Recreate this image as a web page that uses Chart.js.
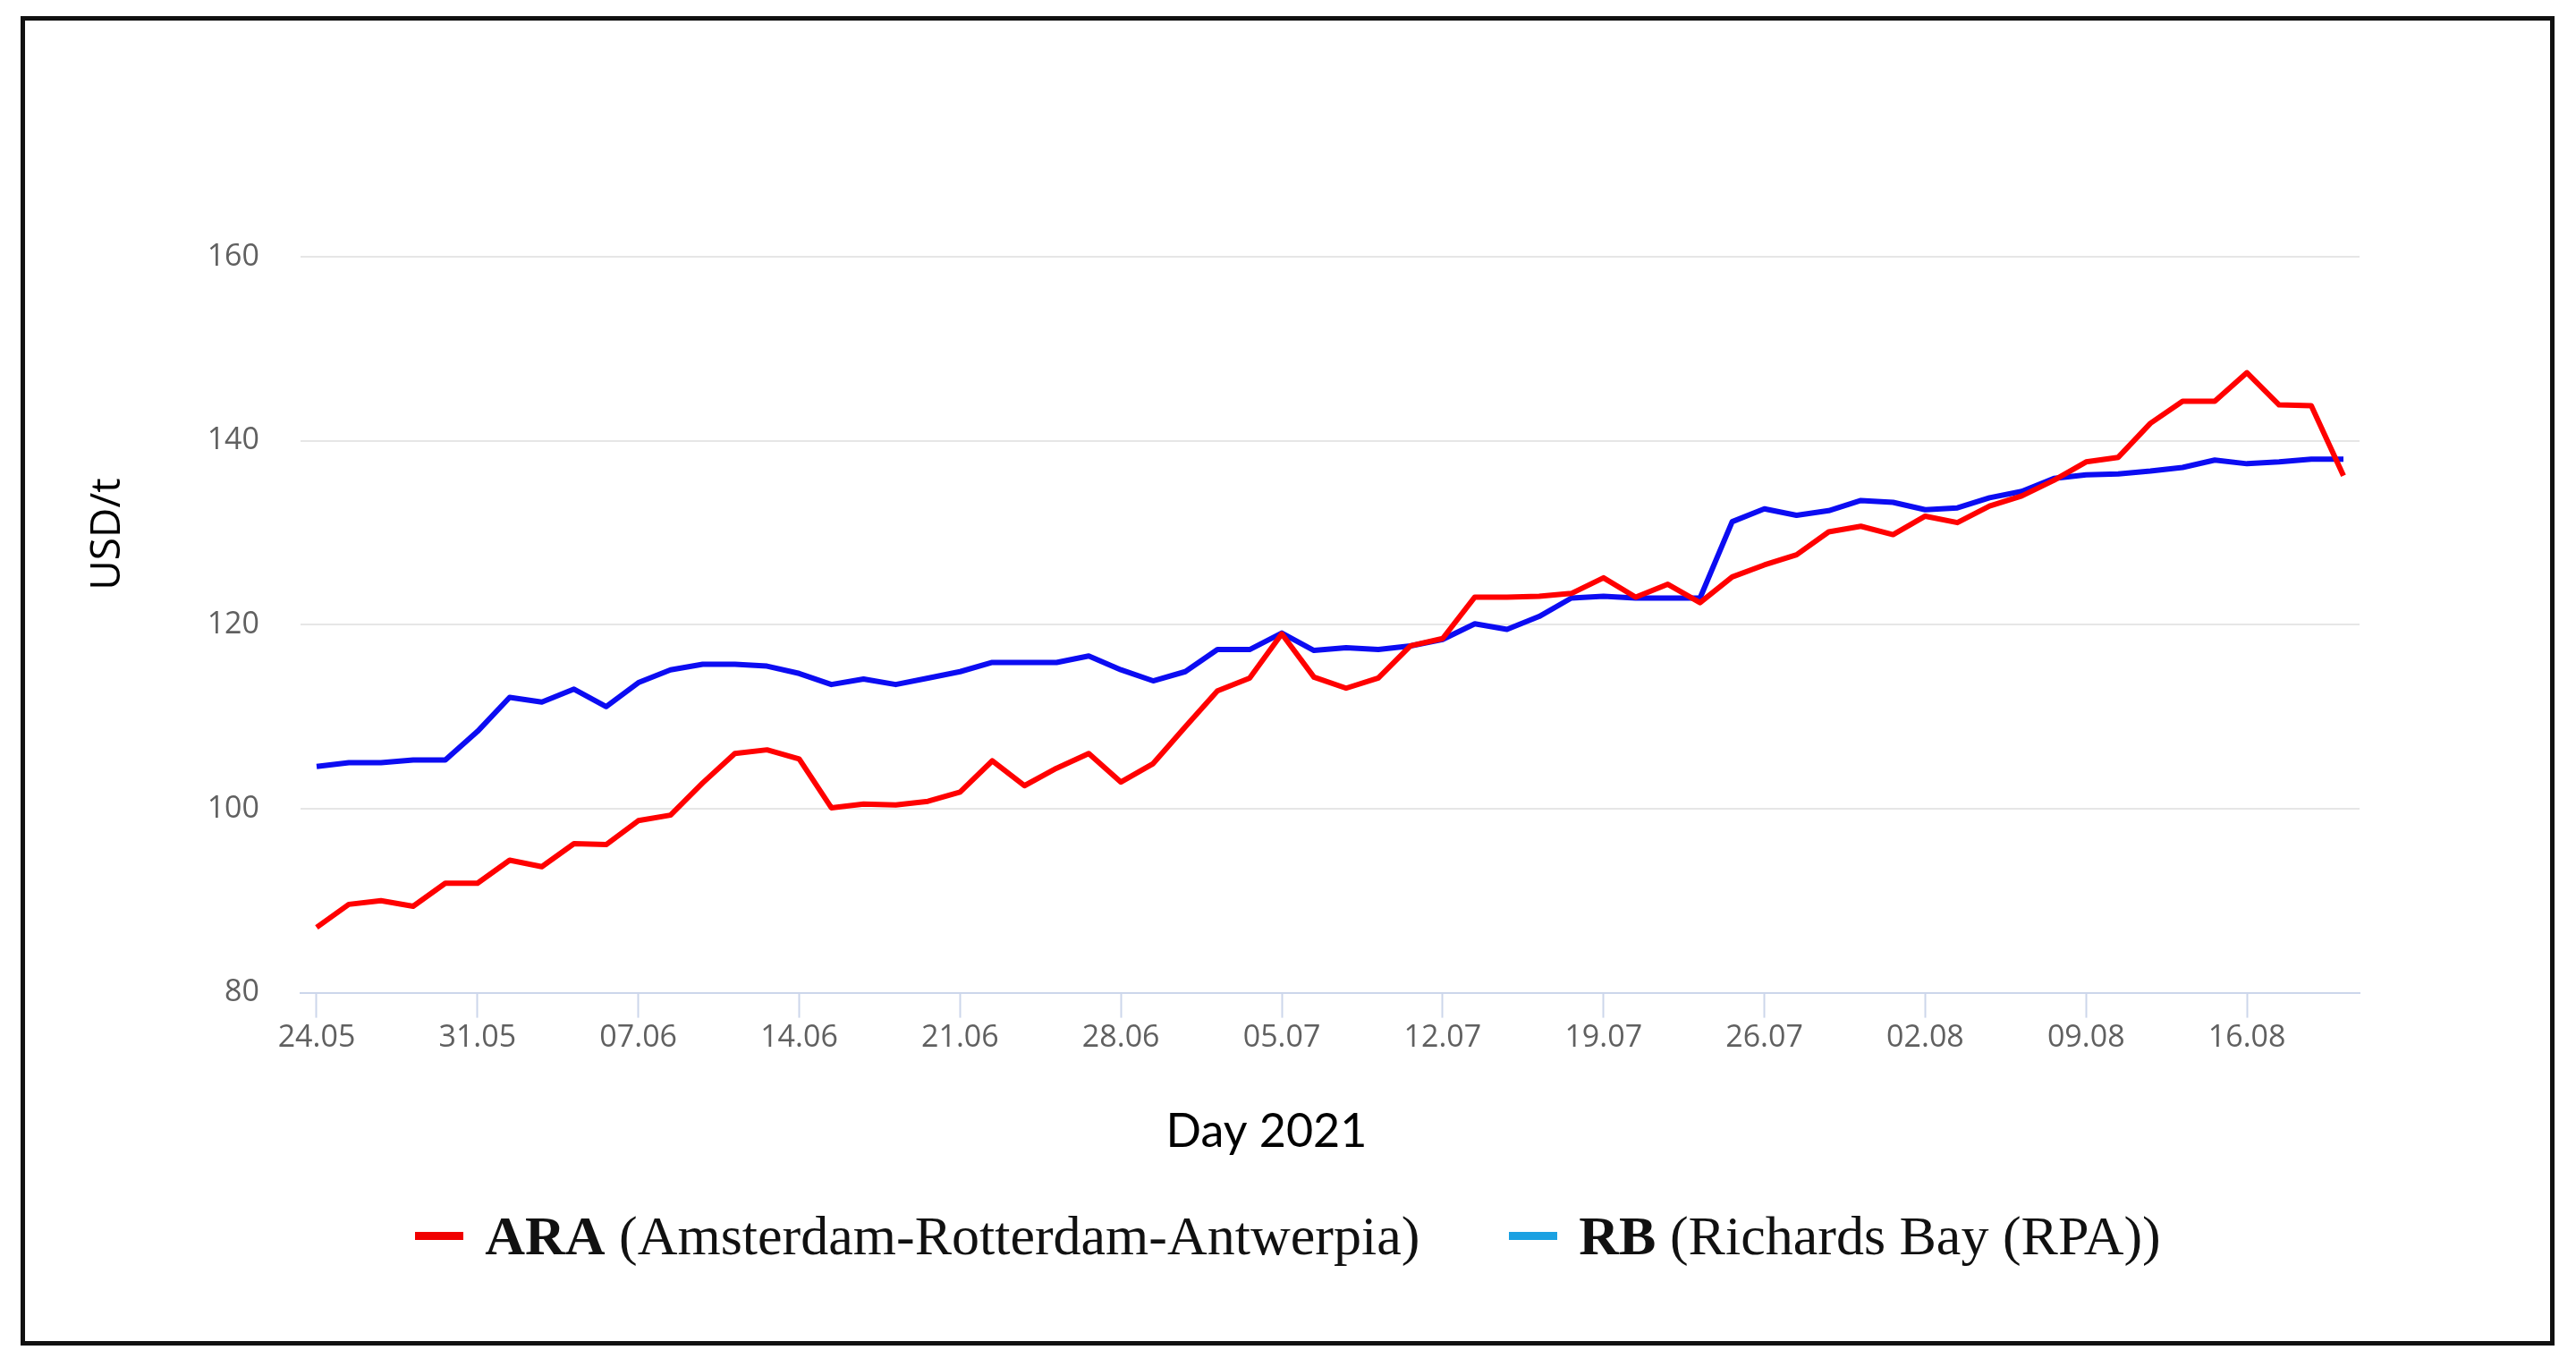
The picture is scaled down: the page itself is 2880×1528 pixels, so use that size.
<!DOCTYPE html>
<html>
<head>
<meta charset="utf-8">
<title>ARA vs RB 2021</title>
<script src="https://cdn.jsdelivr.net/npm/chart.js@4.4.1/dist/chart.umd.min.js"></script>
<style>
  html, body { margin: 0; padding: 0; background: #fff; }
  body { width: 2880px; height: 1528px; position: relative; overflow: hidden; }
  #chartBox { position: absolute; left: 0; top: 0; width: 2880px; height: 1340px; }
  #frame {
    position: absolute; left: 23px; top: 18px; width: 2833px; height: 1486px;
    box-sizing: border-box; border: 5px solid #111; pointer-events: none;
  }
  #legend {
    position: absolute; left: 0; top: 1350px; width: 2880px;
    display: flex; justify-content: center; align-items: center;
    font-family: "Liberation Serif", serif; font-size: 62px; line-height: 1; color: #111;
  }
  .item { display: flex; align-items: center; white-space: pre; }
  .item + .item { margin-left: 100px; }
  .swatch { display: inline-block; width: 54px; height: 9px; margin-right: 24px; }
</style>
</head>
<body>
<div id="chartBox"><canvas id="priceChart"></canvas></div>
<div id="legend"></div>
<div id="frame"></div>

<script>
// working days 24.05 - 19.08.2021
const days = [
  '24.05', '25.05', '26.05', '27.05', '28.05',
  '31.05', '01.06', '02.06', '03.06', '04.06',
  '07.06', '08.06', '09.06', '10.06', '11.06',
  '14.06', '15.06', '16.06', '17.06', '18.06',
  '21.06', '22.06', '23.06', '24.06', '25.06',
  '28.06', '29.06', '30.06', '01.07', '02.07',
  '05.07', '06.07', '07.07', '08.07', '09.07',
  '12.07', '13.07', '14.07', '15.07', '16.07',
  '19.07', '20.07', '21.07', '22.07', '23.07',
  '26.07', '27.07', '28.07', '29.07', '30.07',
  '02.08', '03.08', '04.08', '05.08', '06.08',
  '09.08', '10.08', '11.08', '12.08', '13.08',
  '16.08', '17.08', '18.08', '19.08'
];

// USD/t
const ara = [
  87.1, 89.6, 90.0, 89.4, 91.9,
  91.9, 94.4, 93.7, 96.2, 96.1,
  98.7, 99.3, 102.8, 106.0, 106.4,
  105.4, 100.1, 100.5, 100.4, 100.8,
  101.8, 105.2, 102.5, 104.4, 106.0,
  102.9, 104.9, 108.9, 112.8, 114.2,
  119.0, 114.3, 113.1, 114.2, 117.7,
  118.5, 123.0, 123.0, 123.1, 123.4,
  125.1, 123.0, 124.4, 122.4, 125.2,
  126.5, 127.6, 130.1, 130.7, 129.8,
  131.8, 131.1, 132.9, 134.0, 135.7,
  137.7, 138.2, 141.9, 144.3, 144.3,
  147.4, 143.9, 143.8, 136.2
];

const rb = [
  104.6, 105.0, 105.0, 105.3, 105.3,
  108.4, 112.1, 111.6, 113.0, 111.1,
  113.7, 115.1, 115.7, 115.7, 115.5,
  114.7, 113.5, 114.1, 113.5, 114.2,
  114.9, 115.9, 115.9, 115.9, 116.6,
  115.1, 113.9, 114.9, 117.3, 117.3,
  119.1, 117.2, 117.5, 117.3, 117.7,
  118.4, 120.1, 119.5, 120.9, 122.9,
  123.1, 122.9, 122.9, 122.9, 131.2,
  132.6, 131.9, 132.4, 133.5, 133.3,
  132.5, 132.7, 133.8, 134.5, 135.9,
  136.3, 136.4, 136.7, 137.1, 137.9,
  137.5, 137.7, 138.0, 138.0
];

const seriesCodes = ['ARA', 'RB'];
const seriesNames = ['(Amsterdam-Rotterdam-Antwerpia)', '(Richards Bay (RPA))'];
const lineColors = ['#ff0000', '#0c0cf2'];
const legendColors = ['#f00000', '#1ba1e2'];

const yTicks = [80, 100, 120, 140, 160];

// y axis title sits above the middle of the axis, so it is drawn by hand
const yTitle = {
  id: 'yTitle',
  afterDraw(chart) {
    const {ctx, chartArea} = chart;
    ctx.save();
    ctx.translate(chartArea.left - 215, chartArea.top + 310);
    ctx.rotate(-Math.PI / 2);
    ctx.font = '46px "Open Sans"';
    ctx.fillStyle = '#000';
    ctx.textAlign = 'center';
    ctx.textBaseline = 'middle';
    ctx.fillText('USD/t', 0, 0);
    ctx.restore();
  }
};

const chart = new Chart(document.getElementById('priceChart'), {
  type: 'line',
  data: {
    labels: days,
    datasets: [
      {label: seriesCodes[0], data: ara, borderColor: lineColors[0], backgroundColor: lineColors[0]},
      {label: seriesCodes[1], data: rb, borderColor: lineColors[1], backgroundColor: lineColors[1]}
    ]
  },
  options: {
    responsive: true,
    maintainAspectRatio: false,
    animation: false,
    layout: {padding: {left: 194, right: 242, top: 287, bottom: 34}},
    elements: {
      line: {borderWidth: 6, tension: 0, borderJoinStyle: 'round'},
      point: {radius: 0}
    },
    plugins: {
      legend: {display: false},
      tooltip: {enabled: false},
      title: {
        display: true,
        text: 'Day 2021',
        position: 'bottom',
        weight: 500,
        color: '#000',
        font: {family: 'Lato', size: 52, weight: 'normal'},
        padding: {top: 53, bottom: 10}
      }
    },
    scales: {
      x: {
        offset: true,
        afterBuildTicks: axis => { axis.ticks = axis.ticks.filter((t, i) => i % 5 === 0); },
        afterFit: axis => { axis.height = 71; },
        grid: {
          offset: false,
          drawOnChartArea: false,
          drawTicks: true,
          tickLength: 28,
          tickColor: '#ccd6eb',
          tickWidth: 2
        },
        border: {display: true, color: '#ccd6eb', width: 2},
        ticks: {
          autoSkip: false,
          maxRotation: 0,
          padding: 2,
          color: '#606060',
          font: {family: 'Open Sans', size: 34}
        }
      },
      y: {
        min: yTicks[0],
        max: yTicks[yTicks.length - 1],
        afterFit: axis => { axis.width = 142; },
        afterBuildTicks: axis => { axis.ticks = yTicks.map(v => ({value: v})); },
        grid: {color: '#e6e6e6', lineWidth: 2, drawTicks: false},
        border: {display: false},
        ticks: {
          padding: 46,
          color: '#606060',
          font: {family: 'Open Sans', size: 34}
        }
      }
    }
  },
  plugins: [yTitle]
});

// legend: bold code + plain description, built from the datasets
const legendBox = document.getElementById('legend');
chart.data.datasets.forEach((ds, i) => {
  const item = document.createElement('div');
  item.className = 'item';
  const sw = document.createElement('span');
  sw.className = 'swatch';
  sw.style.background = legendColors[i];
  const code = document.createElement('b');
  code.textContent = ds.label;
  const rest = document.createElement('span');
  rest.textContent = ' ' + seriesNames[i];
  item.append(sw, code, rest);
  legendBox.appendChild(item);
});
</script>
</body>
</html>
